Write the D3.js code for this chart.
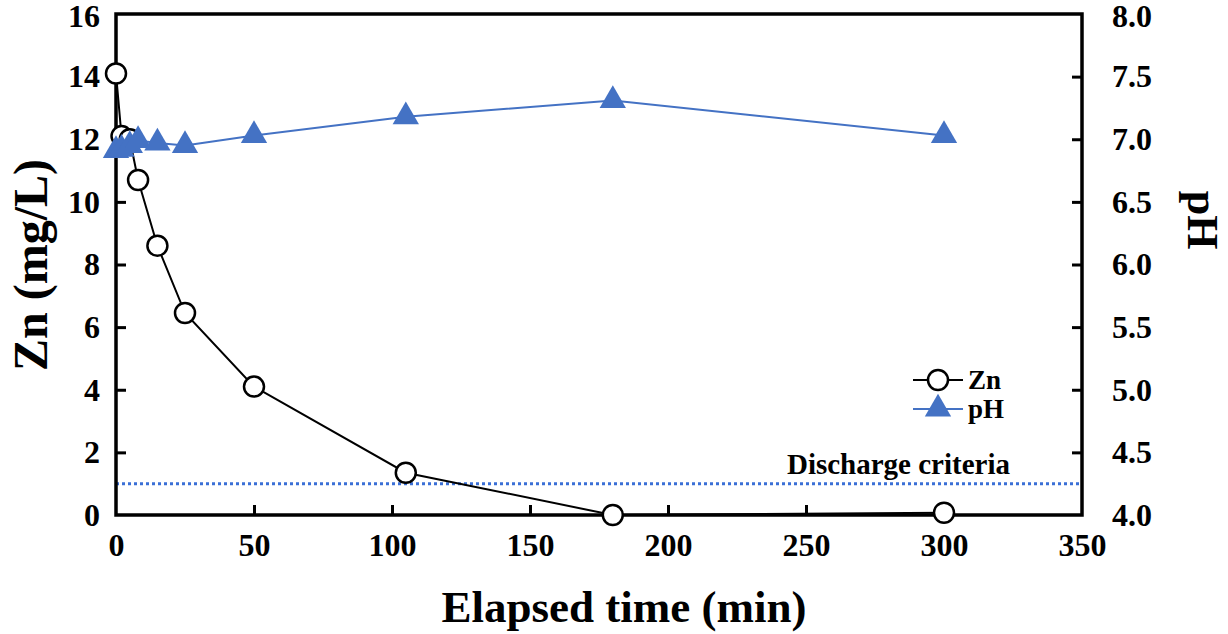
<!DOCTYPE html>
<html>
<head>
  <meta charset="utf-8">
  <script src="https://d3js.org/d3.v7.min.js"></script>
  <style>
    body { margin: 0; background: #fff; }
    text { font-family: "Liberation Serif", "Times New Roman", serif; font-weight: bold; fill: #000; }
  </style>
</head>
<body>
  <script>
    "use strict";

    // Data
    var timeMin = [0, 2, 5, 8, 15, 25, 50, 105, 180, 300];
    var znValues = [14.1, 12.1, 12.0, 10.7, 8.6, 6.45, 4.1, 1.35, 0.0, 0.07];
    var phValues = [6.91, 6.92, 6.95, 6.99, 6.97, 6.95, 7.03, 7.18, 7.31, 7.03];
    var dischargeZn = 1.0;
    var xTicks = [0, 50, 100, 150, 200, 250, 300, 350];
    var znTicks = [0, 2, 4, 6, 8, 10, 12, 14, 16];
    var phTicks = [4.0, 4.5, 5.0, 5.5, 6.0, 6.5, 7.0, 7.5, 8.0];

    var W = 1228, H = 634;
    var plotL = 116, plotR = 1082, plotT = 14, plotB = 515;
    var blue = "#4472C4";

    var svg = d3.select("body").append("svg")
        .attr("width", W)
        .attr("height", H);

    var x = d3.scaleLinear().domain([0, 350]).range([plotL, plotR]);
    var yZn = d3.scaleLinear().domain([0, 16]).range([plotB, plotT]);
    var yPh = d3.scaleLinear().domain([4, 8]).range([plotB, plotT]);

    // discharge criteria line
    svg.append("line")
        .attr("x1", x(0)).attr("x2", x(350))
        .attr("y1", yZn(dischargeZn)).attr("y2", yZn(dischargeZn))
        .attr("stroke", "#3a6fd6")
        .attr("stroke-width", 3)
        .attr("stroke-dasharray", "3,3");

    svg.append("text")
        .attr("x", 1010).attr("y", yZn(dischargeZn) - 10)
        .attr("text-anchor", "end")
        .style("font-size", "29px")
        .text("Discharge criteria");

    // axes, ticks pointing inward
    var xAxis = svg.append("g")
        .attr("transform", "translate(0," + plotB + ")")
        .call(d3.axisBottom(x).tickValues(xTicks).tickSize(-10).tickPadding(18).tickFormat(d3.format("d")));
    var yAxisL = svg.append("g")
        .attr("transform", "translate(" + plotL + ",0)")
        .call(d3.axisLeft(yZn).tickValues(znTicks).tickSize(-10).tickPadding(16).tickFormat(d3.format("d")));
    var yAxisR = svg.append("g")
        .attr("transform", "translate(" + plotR + ",0)")
        .call(d3.axisRight(yPh).tickValues(phTicks).tickSize(-10).tickPadding(30).tickFormat(d3.format(".1f")));

    [xAxis, yAxisL, yAxisR].forEach(function (g) {
      g.attr("font-family", null).attr("font-size", null);
      g.select(".domain").remove();
      g.selectAll(".tick line").attr("stroke", "#000").attr("stroke-width", 3);
      g.selectAll(".tick text")
          .style("font-size", "32px")
          .style("font-family", "'Liberation Serif', serif")
          .style("font-weight", "bold")
          .attr("fill", "#000");
    });
    xAxis.selectAll(".tick line").filter(function (d) { return d === 0 || d === 350; }).remove();
    yAxisL.selectAll(".tick line").filter(function (d) { return d === 0 || d === 16; }).remove();
    yAxisR.selectAll(".tick line").filter(function (d) { return d === 4 || d === 8; }).remove();
    // keep the top labels inside the picture
    yAxisL.selectAll(".tick text").filter(function (d) { return d === 16; }).attr("dy", "0.4em");
    yAxisR.selectAll(".tick text").filter(function (d) { return d === 8; }).attr("dy", "0.4em");

    // frame
    svg.append("rect")
        .attr("x", plotL).attr("y", plotT)
        .attr("width", plotR - plotL).attr("height", plotB - plotT)
        .attr("fill", "none")
        .attr("stroke", "#000")
        .attr("stroke-width", 3.5);

    // Zn series
    var znData = timeMin.map(function (t, i) { return [t, znValues[i]]; });
    svg.append("path")
        .datum(znData)
        .attr("fill", "none")
        .attr("stroke", "#000")
        .attr("stroke-width", 2)
        .attr("d", d3.line().x(function (d) { return x(d[0]); }).y(function (d) { return yZn(d[1]); }));
    svg.selectAll(".zn")
        .data(znData)
        .enter().append("circle")
        .attr("class", "zn")
        .attr("cx", function (d) { return x(d[0]); })
        .attr("cy", function (d) { return yZn(d[1]); })
        .attr("r", 10)
        .attr("fill", "#fff")
        .attr("stroke", "#000")
        .attr("stroke-width", 2.5);

    // pH series
    var phData = timeMin.map(function (t, i) { return [t, phValues[i]]; });
    var tri = d3.symbol().type(d3.symbolTriangle).size(300);
    svg.append("path")
        .datum(phData)
        .attr("fill", "none")
        .attr("stroke", blue)
        .attr("stroke-width", 2)
        .attr("d", d3.line().x(function (d) { return x(d[0]); }).y(function (d) { return yPh(d[1]); }));
    svg.selectAll(".ph")
        .data(phData)
        .enter().append("path")
        .attr("class", "ph")
        .attr("transform", function (d) { return "translate(" + x(d[0]) + "," + yPh(d[1]) + ")"; })
        .attr("d", tri)
        .attr("fill", blue);

    // legend
    var leg = svg.append("g").attr("transform", "translate(913,380)");
    leg.append("line").attr("x1", 0).attr("x2", 50).attr("y1", 0).attr("y2", 0)
        .attr("stroke", "#000").attr("stroke-width", 2);
    leg.append("circle").attr("cx", 25).attr("cy", 0).attr("r", 10)
        .attr("fill", "#fff").attr("stroke", "#000").attr("stroke-width", 2.5);
    leg.append("text").attr("x", 55).attr("y", 9).style("font-size", "27px").text("Zn");
    leg.append("line").attr("x1", 0).attr("x2", 50).attr("y1", 29).attr("y2", 29)
        .attr("stroke", blue).attr("stroke-width", 2);
    leg.append("path").attr("transform", "translate(25,29)").attr("d", tri).attr("fill", blue);
    leg.append("text").attr("x", 55).attr("y", 38).style("font-size", "27px").text("pH");

    // axis titles
    svg.append("text")
        .attr("x", (plotL + plotR) / 2 + 25).attr("y", 622)
        .attr("text-anchor", "middle")
        .style("font-size", "45px")
        .text("Elapsed time (min)");

    svg.append("text")
        .attr("transform", "translate(47,265) rotate(-90)")
        .attr("text-anchor", "middle")
        .style("font-size", "48px")
        .text("Zn (mg/L)");

    svg.append("text")
        .attr("transform", "translate(1188,220) rotate(90)")
        .attr("text-anchor", "middle")
        .style("font-size", "44px")
        .text("pH");
  </script>
</body>
</html>
